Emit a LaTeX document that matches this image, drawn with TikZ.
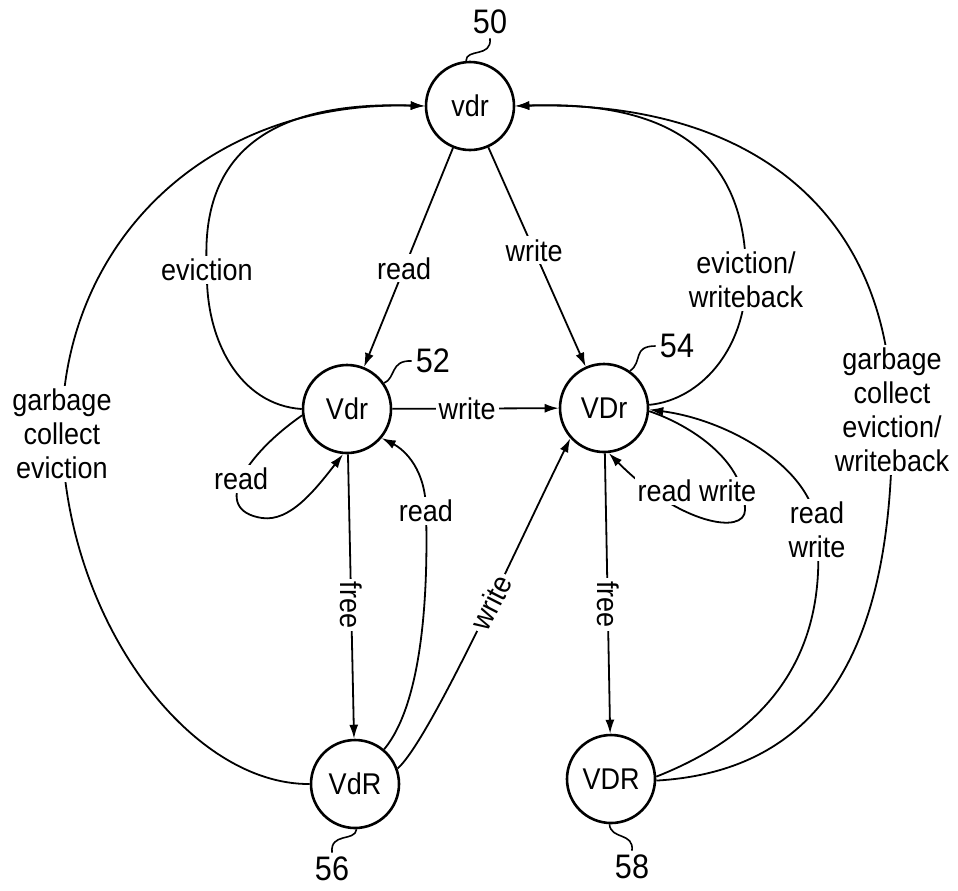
\documentclass[tikz,border=0pt]{standalone}
\usepackage{fontspec}
\setmainfont{Liberation Sans}[FakeStretch=0.9]
\usetikzlibrary{arrows.meta}
\tikzstyle{state}=[draw,circle,line width=1.3pt,minimum size=44pt,inner sep=0pt,font=\fontsize{15}{17}\selectfont]
\tikzstyle{trans}=[->,>={Latex[length=7pt,width=4.5pt]},line width=0.9pt]
\tikzstyle{translabel}=[fill=white,inner sep=1.5pt,align=center,font=\fontsize{15}{17}\selectfont]
\tikzstyle{refnum}=[inner sep=2pt,font=\fontsize{17}{19}\selectfont]
\tikzstyle{leader}=[line width=0.8pt]

\begin{document}
\begin{tikzpicture}[x=0.5pt,y=-0.5pt]
\useasboundingbox (0,0) rectangle (958,890);

\node[state] (s50) at (470,106) {vdr};
\node[state] (s52) at (347,409) {Vdr};
\node[state] (s54) at (604,408) {VDr};
\node[state] (s56) at (355,784) {VdR};
\node[state] (s58) at (611,779) {VDR};

\node[refnum] (n50) at (490,22) {50};
\node[refnum] (n52) at (433,361) {52};
\node[refnum] (n54) at (677,346) {54};
\node[refnum] (n56) at (332,869) {56};
\node[refnum] (n58) at (632,867) {58};

\draw[leader] (s50.95) .. controls (466,48) and (492,58) .. (n50.south);
\draw[leader] (s52.35) .. controls (396,378) and (390,360) .. (n52.west);
\draw[leader] (s54.55) .. controls (643,362) and (632,346) .. (n54.west);
\draw[leader] (s56.-88) .. controls (355,842) and (330,832) .. (n56.north);
\draw[leader] (s58.-92) .. controls (611,840) and (634,832) .. (n58.north);

\draw[trans] (s50) -- node[translabel,pos=0.55] {read} (s52);
\draw[trans] (s50) -- node[translabel,pos=0.47] {write} (s54);
\draw[trans] (s52) -- node[translabel,pos=0.45] {write} (s54);
\draw[trans] (s52) -- node[translabel,pos=0.53,rotate=-90] {free} (s56);
\draw[trans] (s54) -- node[translabel,pos=0.54,rotate=-90] {free} (s58);

\draw[trans] (s56.50) .. controls (425,700) and (428,580) .. (426,511) node[translabel] {read}
  .. controls (426,470) and (405,450) .. (s52.-40);
\draw[trans] (s56.20) .. controls (430,740) and (520,540) .. (s54.-138) node[translabel,pos=0.57,rotate=63] {write};

\draw[trans] (s52.188) .. controls (245,455) and (210,510) .. (262,518) node[translabel,pos=0.5] {read}
  .. controls (290,522) and (315,490) .. (s52.-95);
\draw[trans] (s54.-4) .. controls (690,425) and (745,460) .. (745,510)
  .. controls (745,535) and (680,525) .. (s54.-84) node[translabel] at (697,491) {read write};

\draw[trans] (s58.3) .. controls (800,720) and (825,620) .. (817,530) node[translabel] {read\\write}
  .. controls (815,470) and (730,420) .. (s54.-2);

\draw[trans] (s54.4) .. controls (700,400) and (745,350) .. (746,280) node[translabel] {eviction/\\writeback}
  .. controls (748,160) and (680,100) .. (s50.east);
\draw[trans] (s58.-2) .. controls (840,770) and (895,620) .. (892,410) node[translabel] {garbage\\collect\\eviction/\\writeback}
  .. controls (888,210) and (750,100) .. (s50.east);

\draw[trans] (s52.180) .. controls (240,405) and (205,340) .. (207,270) node[translabel] {eviction}
  .. controls (200,170) and (250,100) .. (s50.west);
\draw[trans] (s56.180) .. controls (190,785) and (65,620) .. (62,434) node[translabel] {garbage\\collect\\eviction}
  .. controls (60,250) and (200,100) .. (s50.west);

\end{tikzpicture}
\end{document}
